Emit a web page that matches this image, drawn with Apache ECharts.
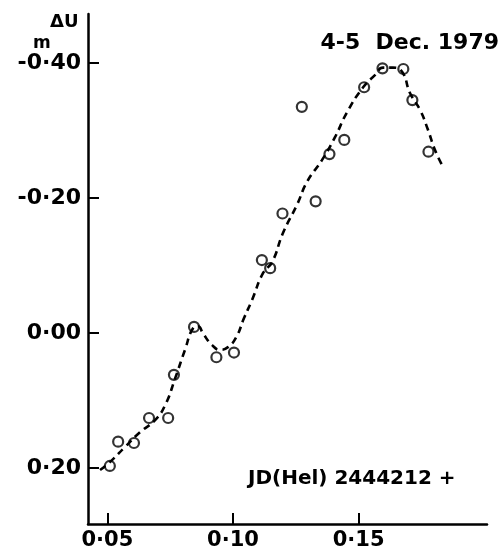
<!DOCTYPE html>
<html>
<head>
<meta charset="utf-8">
<script src="https://cdn.jsdelivr.net/npm/echarts@6/dist/echarts.min.js"></script>
<style>html,body{margin:0;padding:0;background:#fff;}#c{width:501px;height:552px;}</style>
</head>
<body>
<div id="c"></div>
<script>
// Observations (JD offset, ΔU magnitude)
var obsX = [0.0510, 0.0543, 0.0606, 0.0666, 0.0742, 0.0765, 0.0845, 0.0934, 0.1004, 0.1115, 0.1148, 0.1197, 0.1274, 0.1329, 0.1384, 0.1443, 0.1522, 0.1595, 0.1678, 0.1714, 0.1778];
var obsY = [0.197, 0.161, 0.163, 0.126, 0.126, 0.062, -0.009, 0.036, 0.029, -0.108, -0.096, -0.177, -0.335, -0.195, -0.265, -0.286, -0.364, -0.392, -0.391, -0.345, -0.2685];
// Dashed fitted curve
var curveX = [0.0471, 0.0511, 0.0570, 0.0630, 0.0690, 0.0730, 0.0770, 0.0809, 0.0841, 0.0861, 0.0881, 0.0917, 0.0949, 0.0980, 0.1012, 0.1044, 0.1076, 0.1120, 0.1156, 0.1199, 0.1255, 0.1295, 0.1354, 0.1406, 0.1454, 0.1518, 0.1565, 0.1597, 0.1637, 0.1673, 0.1705, 0.1745, 0.1776, 0.1804, 0.1836];
var curveY = [0.203, 0.191, 0.169, 0.147, 0.129, 0.107, 0.067, 0.025, -0.007, -0.010, 0.001, 0.018, 0.025, 0.021, 0.007, -0.022, -0.049, -0.089, -0.105, -0.148, -0.190, -0.224, -0.256, -0.290, -0.327, -0.364, -0.382, -0.393, -0.393, -0.387, -0.355, -0.330, -0.301, -0.271, -0.246];
var xTicks = [0.05, 0.10, 0.15];
var yTicks = [-0.40, -0.20, 0.00, 0.20];
var xRange = [0.0423, 0.2011];
var yRange = [-0.4725, 0.283];
var titleText = '4-5  Dec. 1979';
var jdText = 'JD(Hel) 2444212 +';
var yName = 'ΔU';
var yUnit = 'm';

function fmt(v) {
  var s = Math.abs(v).toFixed(2).replace('.', '·');
  return (v < -1e-9 ? '-' : '') + s;
}
var FONT = '"DejaVu Sans", sans-serif';
var curveData = curveX.map(function (x, i) { return [x, curveY[i]]; });
var obsData = obsX.map(function (x, i) { return [x, obsY[i]]; });

var chart = echarts.init(document.getElementById('c'), null, {renderer: 'canvas'});
chart.setOption({
  backgroundColor: '#fff',
  animation: false,
  grid: {left: 88, right: 14, top: 14, bottom: 28, containLabel: false},
  xAxis: {
    type: 'value', min: xRange[0], max: xRange[1],
    splitLine: {show: false},
    axisLine: {show: true, onZero: false, lineStyle: {color: '#000', width: 2.5}},
    axisTick: {show: true, inside: true, length: 11, customValues: xTicks, lineStyle: {color: '#000', width: 2}},
    axisLabel: {show: true, customValues: xTicks, margin: 6, color: '#000', fontFamily: FONT, fontWeight: 'bold', fontSize: 21, formatter: fmt}
  },
  yAxis: {
    type: 'value', inverse: true, min: yRange[0], max: yRange[1],
    splitLine: {show: false},
    axisLine: {show: true, onZero: false, lineStyle: {color: '#000', width: 2.5}},
    axisTick: {show: true, inside: true, length: 11, customValues: yTicks, lineStyle: {color: '#000', width: 2}},
    axisLabel: {show: true, customValues: yTicks, margin: 7, color: '#000', fontFamily: FONT, fontWeight: 'bold', fontSize: 22, formatter: fmt}
  },
  series: [
    {
      type: 'line', data: curveData, smooth: 0.5, showSymbol: false, silent: true,
      lineStyle: {color: '#000', width: 2.6, type: [7, 5]}, z: 2
    },
    {
      type: 'scatter', data: obsData, symbol: 'circle', symbolSize: 10,
      itemStyle: {color: 'rgba(0,0,0,0)', borderColor: '#000', borderWidth: 2.2}, z: 3
    }
  ],
  graphic: [
    {type: 'text', left: 50, top: 13, style: {text: yName, fill: '#000', font: 'bold 18px ' + FONT}},
    {type: 'text', left: 33, top: 35, style: {text: yUnit, fill: '#000', font: 'bold 17px ' + FONT}},
    {type: 'text', right: 2, top: 32, style: {text: titleText, fill: '#000', font: 'bold 22px ' + FONT}},
    {type: 'text', left: 248, top: 469, style: {text: jdText, fill: '#000', font: 'bold 20px ' + FONT}}
  ]
});
</script>
</body>
</html>
